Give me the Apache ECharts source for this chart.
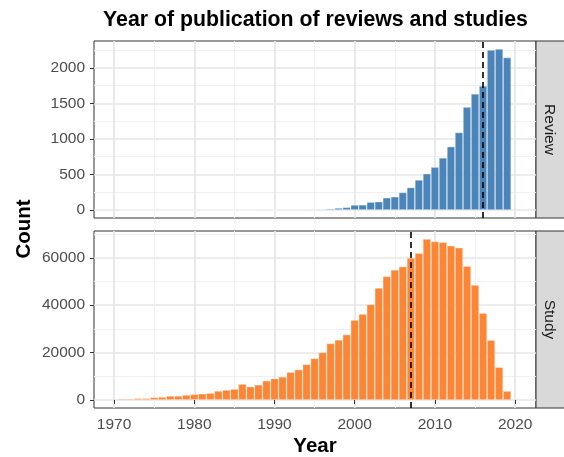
<!DOCTYPE html>
<html>
<head>
<meta charset="utf-8">
<script src="https://cdn.jsdelivr.net/npm/echarts@6/dist/echarts.min.js"></script>
<style>
html, body { margin: 0; padding: 0; background: #fff; }
#chart { width: 564px; height: 457px; }
</style>
</head>
<body>
<div id="chart"></div>
<script>
// data
const years = [1971, 1972, 1973, 1974, 1975, 1976, 1977, 1978, 1979, 1980,
    1981, 1982, 1983, 1984, 1985, 1986, 1987, 1988, 1989, 1990,
    1991, 1992, 1993, 1994, 1995, 1996, 1997, 1998, 1999, 2000,
    2001, 2002, 2003, 2004, 2005, 2006, 2007, 2008, 2009, 2010,
    2011, 2012, 2013, 2014, 2015, 2016, 2017, 2018, 2019];
const reviewCounts = [0, 0, 0, 0, 0, 0, 0, 1, 0, 1,
    1, 1, 1, 1, 2, 2, 2, 3, 3, 4,
    5, 6, 6, 8, 10, 11, 17, 28, 37, 70,
    72, 110, 116, 172, 186, 246, 316, 422, 510, 603,
    733, 891, 1090, 1448, 1633, 1745, 2250, 2264, 2144];
const studyCounts = [500, 500, 700, 700, 1100, 1250, 1700, 1700, 2100, 2400,
    2650, 2900, 3800, 4200, 4600, 6700, 5600, 6400, 8100, 9050,
    9750, 11700, 12800, 15050, 17550, 20050, 23850, 25350, 27600, 33700,
    36250, 40300, 47250, 52150, 54900, 56300, 59950, 61900, 67900, 66900,
    66600, 65100, 64250, 56450, 48500, 36650, 25250, 13800, 3750];
const reviewLine = 2016;
const studyLine = 2007;

const yearTicks = [1970, 1980, 1990, 2000, 2010, 2020];
const yearMinor = [1975, 1985, 1995, 2005, 2015];
const reviewTicks = [0, 500, 1000, 1500, 2000];
const reviewMinor = [250, 750, 1250, 1750, 2250];
const studyTicks = [0, 20000, 40000, 60000];
const studyMinor = [10000, 30000, 50000, 70000];

const FONT = "'Liberation Sans', Arial, sans-serif";
const X_MIN = 1967.5, X_MAX = 2022.6;
const plain = v => String(v);

function xAxes(gridIndex, showLabels) {
    return [{
        type: 'value', gridIndex: gridIndex, min: X_MIN, max: X_MAX,
        axisLine: { show: false },
        axisTick: { show: showLabels, customValues: yearTicks, length: 4, lineStyle: { color: '#333', width: 1 } },
        axisLabel: { show: showLabels, customValues: yearTicks, formatter: plain, color: '#4d4d4d', fontSize: 15.5, fontFamily: FONT, margin: 9 },
        splitLine: { show: true, lineStyle: { color: '#e6e6e6', width: 1.7 } }
    }, {
        type: 'value', gridIndex: gridIndex, min: X_MIN, max: X_MAX,
        axisLine: { show: false },
        axisTick: { show: false, customValues: yearMinor },
        axisLabel: { show: false, customValues: yearMinor },
        splitLine: { show: true, lineStyle: { color: '#eeeeee', width: 0.9 } }
    }];
}

function yAxes(gridIndex, min, max, ticks, minor) {
    return [{
        type: 'value', gridIndex: gridIndex, min: min, max: max,
        axisLine: { show: false },
        axisTick: { show: true, customValues: ticks, length: 4, lineStyle: { color: '#333', width: 1 } },
        axisLabel: { customValues: ticks, formatter: plain, color: '#4d4d4d', fontSize: 15.5, fontFamily: FONT, margin: 9 },
        splitLine: { show: true, lineStyle: { color: '#e6e6e6', width: 1.7 } }
    }, {
        type: 'value', gridIndex: gridIndex, min: min, max: max,
        axisLine: { show: false },
        axisTick: { show: false, customValues: minor },
        axisLabel: { show: false, customValues: minor },
        splitLine: { show: true, lineStyle: { color: '#eeeeee', width: 0.9 } }
    }];
}

function barSeries(idx, counts, color, line) {
    return {
        type: 'bar',
        xAxisIndex: idx * 2,
        yAxisIndex: idx * 2,
        data: years.map((y, i) => [y, counts[i]]),
        barWidth: 8.02,
        itemStyle: { color: color, borderColor: 'rgba(255,255,255,0.55)', borderWidth: 0.6 },
        markLine: {
            silent: true,
            symbol: ['none', 'none'],
            label: { show: false },
            lineStyle: { color: '#000', type: [6, 4], width: 1.6 },
            data: [{ xAxis: line }]
        }
    };
}

let chart = echarts.init(document.getElementById('chart'), null, { renderer: 'canvas' });
let option = {
    animation: false,
    backgroundColor: '#fff',
    grid: [
        { left: 94, top: 41, width: 442, height: 177, show: true, borderColor: '#333', borderWidth: 1, backgroundColor: '#fff' },
        { left: 94, top: 231, width: 442, height: 177, show: true, borderColor: '#333', borderWidth: 1, backgroundColor: '#fff' }
    ],
    xAxis: xAxes(0, false).concat(xAxes(1, true)),
    yAxis: yAxes(0, -113, 2377, reviewTicks, reviewMinor).concat(yAxes(1, -3395, 71295, studyTicks, studyMinor)),
    series: [
        barSeries(0, reviewCounts, '#4a84b9', reviewLine),
        barSeries(1, studyCounts, '#fd8636', studyLine)
    ],
    graphic: [
        { type: 'text', x: 315.5, y: 20, style: { text: 'Year of publication of reviews and studies', fontSize: 21.3, fontWeight: 'bold', fontFamily: FONT, fill: '#000', textAlign: 'center', textVerticalAlign: 'middle' } },
        { type: 'text', x: 24, y: 229, rotation: Math.PI / 2, style: { text: 'Count', fontSize: 20.5, fontWeight: 'bold', fontFamily: FONT, fill: '#000', textAlign: 'center', textVerticalAlign: 'middle' } },
        { type: 'text', x: 315, y: 446, style: { text: 'Year', fontSize: 20.5, fontWeight: 'bold', fontFamily: FONT, fill: '#000', textAlign: 'center', textVerticalAlign: 'middle' } },
        { type: 'rect', shape: { x: 536, y: 41, width: 32, height: 177 }, style: { fill: '#d9d9d9', stroke: '#333', lineWidth: 1 } },
        { type: 'rect', shape: { x: 536, y: 231, width: 32, height: 177 }, style: { fill: '#d9d9d9', stroke: '#333', lineWidth: 1 } },
        { type: 'text', x: 549, y: 129.5, rotation: -Math.PI / 2, style: { text: 'Review', fontSize: 15.5, fontFamily: FONT, fill: '#1a1a1a', textAlign: 'center', textVerticalAlign: 'middle' } },
        { type: 'text', x: 549, y: 319.5, rotation: -Math.PI / 2, style: { text: 'Study', fontSize: 15.5, fontFamily: FONT, fill: '#1a1a1a', textAlign: 'center', textVerticalAlign: 'middle' } }
    ]
};
chart.setOption(option);
</script>
</body>
</html>
